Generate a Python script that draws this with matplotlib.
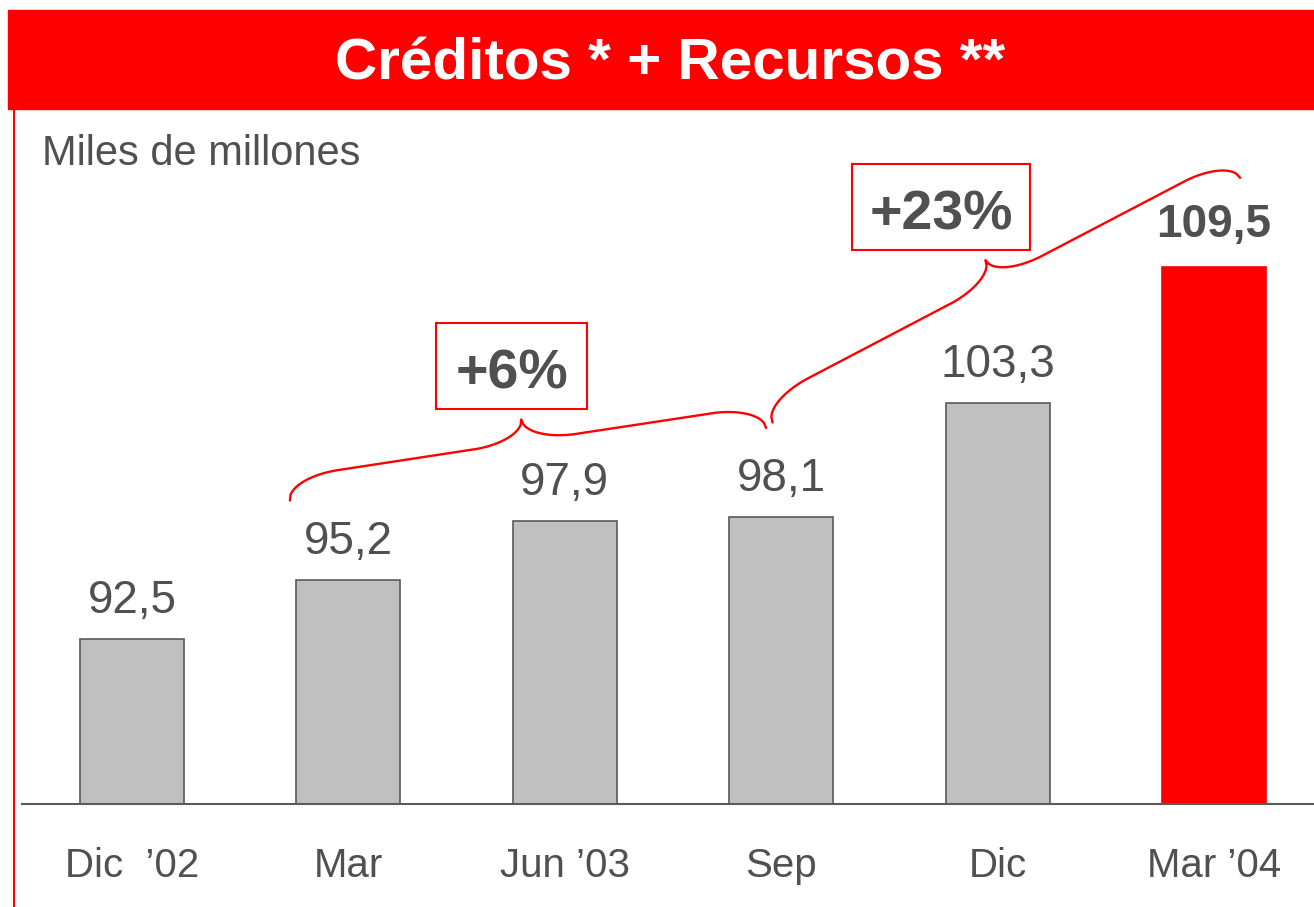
import matplotlib.pyplot as plt
import numpy as np
from matplotlib.patches import Rectangle
from matplotlib.lines import Line2D

plt.rcParams['font.family'] = ['Liberation Sans', 'DejaVu Sans']

periods = ['Dic  \u201902', 'Mar', 'Jun \u201903', 'Sep', 'Dic', 'Mar \u201904']
values = [92.5, 95.2, 97.9, 98.1, 103.3, 109.5]
growth_labels = ['+6%', '+23%']

GRAY = '#c0c0c0'
EDGE = '#5a5a5a'
TEXT = '#505050'
RED = '#ff0000'

fig = plt.figure(figsize=(13.14, 9.07), dpi=100)

# red title band
fig.patches.append(Rectangle((8 / 1314, 1 - 109 / 907), 1, 99 / 907,
                             transform=fig.transFigure, color=RED, zorder=0))
fig.text(670 / 1314, 1 - 80 / 907, 'Cr\u00e9ditos * + Recursos **', color='white',
         fontsize=42, fontweight='bold', ha='center', va='baseline')
# thin red line on the left
fig.lines.append(Line2D([14 / 1314, 14 / 1314], [0, 1 - 109 / 907],
                        transform=fig.transFigure, color=RED, lw=1.5))
fig.text(42 / 1314, 1 - 165 / 907, 'Miles de millones', color=TEXT, fontsize=30,
         ha='left', va='baseline')

ax = fig.add_axes([22 / 1314, 103 / 907, 1292 / 1314, 695 / 907])
ax.set_facecolor('none')

x = np.arange(len(values))
colors = [GRAY] * (len(values) - 1) + [RED]
edges = [EDGE] * (len(values) - 1) + [RED]
ax.bar(x, [v - 85 for v in values], bottom=85, width=0.48, color=colors,
       edgecolor=edges, linewidth=1.2, zorder=2)

ax.set_xlim(-0.5083, 5.4621)
ax.set_ylim(85, 116.68)

for i, v in enumerate(values):
    last = i == len(values) - 1
    ax.annotate(f'{v:.1f}'.replace('.', ','), xy=(i, v),
                xytext=(0, 14 if last else 11.5), textcoords='offset points',
                ha='center', va='bottom', color=TEXT, fontsize=33,
                fontweight='bold' if last else 'normal')

ax.set_xticks(x)
ax.set_xticklabels(periods, fontsize=29, color=TEXT)
ax.tick_params(axis='x', length=0, pad=31)
ax.set_yticks([])
for side in ['top', 'right', 'left']:
    ax.spines[side].set_visible(False)
ax.spines['bottom'].set_color(EDGE)
ax.spines['bottom'].set_linewidth(1.5)


def brace(p0, p1, h=45, lc=52):
    # curly brace between two data points, drawn in pixel space
    a = ax.transData.transform(p0)
    b = ax.transData.transform(p1)
    d = b - a
    L = np.hypot(*d)
    t = d / L
    n = np.array([-t[1], t[0]])
    half = L / 2
    u1 = np.linspace(0, lc, 40)
    y1 = h / 2 * np.sqrt(1 - (1 - u1 / lc) ** 2)
    u2 = np.array([lc, half - lc])
    y2 = np.array([h / 2, h / 2])
    u3 = np.linspace(half - lc, half, 40)
    y3 = h / 2 + h / 2 * (1 - np.sqrt(np.clip(1 - ((u3 - (half - lc)) / lc) ** 2, 0, 1)))
    u = np.concatenate([u1, u2, u3])
    yy = np.concatenate([y1, y2, y3])
    u = np.concatenate([u, L - u[::-1]])
    yy = np.concatenate([yy, yy[::-1]])
    pts = a + np.outer(u, t) + np.outer(yy, n)
    pts = ax.transData.inverted().transform(pts)
    ax.plot(pts[:, 0], pts[:, 1], color=RED, lw=1.7, clip_on=False, zorder=3)


brace((1 - 0.27, values[1] + 3.65), (3 - 0.07, values[3] + 4.05))
brace((3 - 0.04, values[3] + 4.3), (5 + 0.12, values[5] + 4.05))

# boxed growth figures
ax.add_patch(Rectangle((1.405, 103.0), 0.698, 3.92, fill=False, edgecolor=RED, lw=1.5, zorder=3))
ax.text(1.754, 103.96, growth_labels[0], ha='center', va='baseline', fontsize=40,
        fontweight='bold', color=TEXT)
ax.add_patch(Rectangle((3.327, 110.25), 0.823, 3.92, fill=False, edgecolor=RED, lw=1.5,
                       zorder=3, clip_on=False))
ax.text(3.738, 111.21, growth_labels[1], ha='center', va='baseline', fontsize=40,
        fontweight='bold', color=TEXT)

fig.savefig('out.png', dpi=100)
